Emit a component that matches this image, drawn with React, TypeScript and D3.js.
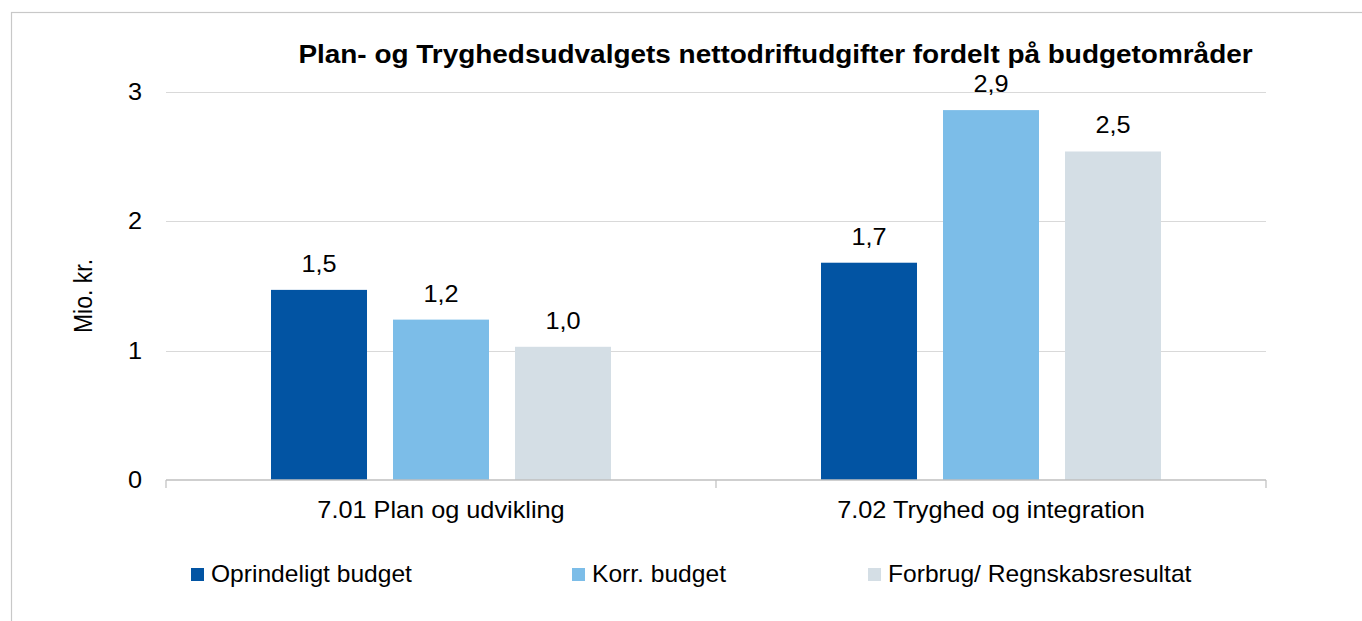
import React from "react";
import * as d3 from "d3";

const categories = ["7.01 Plan og udvikling", "7.02 Tryghed og integration"];
const seriesNames = ["Oprindeligt budget", "Korr. budget", "Forbrug/ Regnskabsresultat"];
const seriesColors = ["#0254A3", "#7CBDE8", "#D4DEE5"];
const oprindeligt = [1.47, 1.68];
const korrigeret = [1.24, 2.86];
const forbrug = [1.03, 2.54];
const yTicks = [0, 1, 2, 3];
const title = "Plan- og Tryghedsudvalgets nettodriftudgifter fordelt på budgetområder";
const yTitle = "Mio. kr.";

const W = 1362;
const H = 621;
const FONT = "'Liberation Sans', Arial, sans-serif";
const SX = 1.1;

export default function App() {
  const seriesValues = [oprindeligt, korrigeret, forbrug];
  const plotLeft = 166;
  const plotRight = 1266;
  const y = d3.scaleLinear().domain([0, 3]).range([480, 92]);
  const x0 = d3.scaleBand<string>().domain(categories).range([plotLeft, plotRight]).padding(0);
  const x1 = d3
    .scaleBand<string>()
    .domain(seriesNames)
    .range([0, x0.bandwidth()])
    .paddingInner(0.2131)
    .paddingOuter(0.8607);
  const fmt = (v: number) => d3.format(".1f")(v).replace(".", ",");

  const legendX = [191, 572, 868];

  const T = (props: { x: number; y: number; anchor?: string; size?: number; weight?: string; rotate?: boolean; sx?: number; children: React.ReactNode }) => (
    <text
      transform={`translate(${props.x},${props.y}) scale(${props.sx || SX},1)${props.rotate ? " rotate(-90)" : ""}`}
      textAnchor={props.anchor || "start"}
      fontSize={props.size || 23}
      fontWeight={props.weight || "normal"}
      fontFamily={FONT}
      fill="#000"
    >
      {props.children}
    </text>
  );

  return (
    <svg width={W} height={H} style={{ position: "absolute", left: 0, top: 0, background: "#fff" }}>
      <rect x={0} y={0} width={W} height={H} fill="#fff" />
      <rect x={11.5} y={12.5} width={W + 10} height={H + 10} fill="none" stroke="#C8C8C8" strokeWidth={1.2} />
      <T x={775.5} y={63} anchor="middle" size={25.4} weight="bold">{title}</T>

      {yTicks.filter((t) => t > 0).map((t) => (
        <line key={t} x1={plotLeft} x2={plotRight} y1={Math.round(y(t)) + 0.5} y2={Math.round(y(t)) + 0.5} stroke="#D9D9D9" strokeWidth={1} />
      ))}
      {yTicks.map((t) => (
        <T key={t} x={142} y={y(t) + 8} anchor="end">{String(t)}</T>
      ))}
      <T x={92} y={296} anchor="middle" rotate>{yTitle}</T>

      {categories.map((c, ci) => (
        <g key={c}>
          {seriesNames.map((s, si) => {
            const v = seriesValues[si][ci];
            const bx = (x0(c) as number) + (x1(s) as number);
            return (
              <g key={s}>
                <rect x={bx} y={y(v)} width={x1.bandwidth()} height={y(0) - y(v)} fill={seriesColors[si]} />
                <T x={bx + x1.bandwidth() / 2} y={y(v) - 18} anchor="middle">{fmt(v)}</T>
              </g>
            );
          })}
          <T x={(x0(c) as number) + x0.bandwidth() / 2} y={518} anchor="middle">{c}</T>
        </g>
      ))}

      <line x1={plotLeft} x2={plotRight} y1={480} y2={480} stroke="#BFBFBF" strokeWidth={1.5} />
      {[plotLeft, plotLeft + x0.bandwidth(), plotRight].map((tx, i) => (
        <line key={i} x1={tx} x2={tx} y1={480} y2={488} stroke="#BFBFBF" strokeWidth={1.2} />
      ))}

      {seriesNames.map((s, i) => (
        <g key={s}>
          <rect x={legendX[i]} y={568} width={13} height={13} fill={seriesColors[i]} />
          <T x={legendX[i] + 20} y={582} sx={1.07}>{s}</T>
        </g>
      ))}
    </svg>
  );
}
